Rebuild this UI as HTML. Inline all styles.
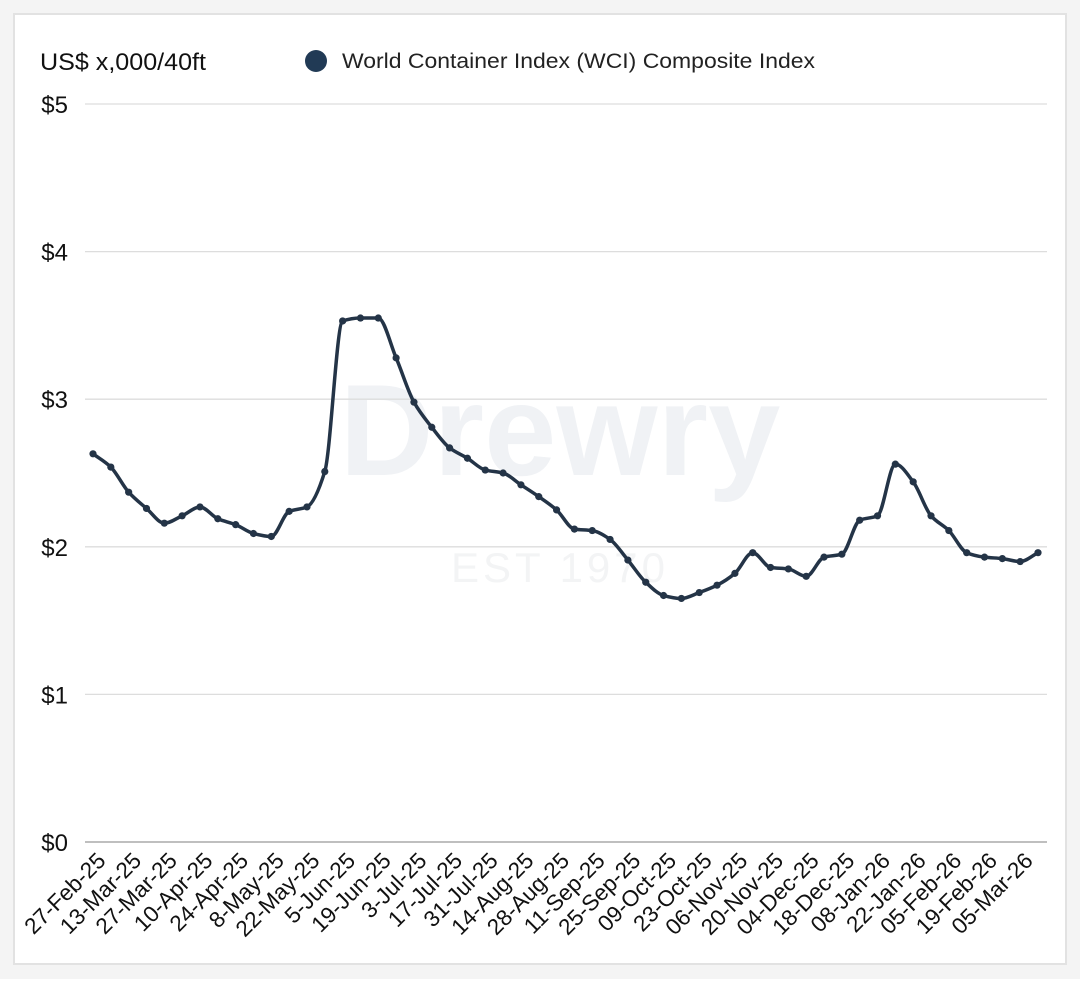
<!DOCTYPE html>
<html><head><meta charset="utf-8"><style>
html,body{margin:0;padding:0;background:#fff;}
body{width:1080px;height:979px;overflow:hidden;font-family:"Liberation Sans",sans-serif;}
</style></head><body>
<svg id="s" width="1080" height="979" xmlns="http://www.w3.org/2000/svg" font-family="Liberation Sans, sans-serif">
<rect x="0" y="0" width="1080" height="979" fill="#f4f4f4"/>
<rect x="14" y="14" width="1052" height="950" fill="#fff" stroke="#e2e2e2" stroke-width="2"/>
<text x="40" y="70" font-size="24" fill="#111" textLength="166" lengthAdjust="spacingAndGlyphs">US$ x,000/40ft</text>
<circle cx="316" cy="61" r="11" fill="#213a55"/>
<text x="342" y="68" font-size="21" fill="#222" textLength="473" lengthAdjust="spacingAndGlyphs">World Container Index (WCI) Composite Index</text>
<text x="560" y="475" font-size="130" font-weight="bold" fill="#f0f2f5" text-anchor="middle">Drewry</text>
<text x="560" y="582" font-size="42" fill="#f3f4f5" text-anchor="middle" letter-spacing="4">EST 1970</text>
<g id="g"></g>
</svg>
<script>
var vals=[2.63,2.54,2.37,2.26,2.16,2.21,2.27,2.19,2.15,2.09,2.07,2.24,2.27,2.51,3.53,3.55,3.55,3.28,2.98,2.81,2.67,2.60,2.52,2.50,2.42,2.34,2.25,2.12,2.11,2.05,1.91,1.76,1.67,1.65,1.69,1.74,1.82,1.96,1.86,1.85,1.80,1.93,1.95,2.18,2.21,2.56,2.44,2.21,2.11,1.96,1.93,1.92,1.90,1.96];
var labels=["27-Feb-25","13-Mar-25","27-Mar-25","10-Apr-25","24-Apr-25","8-May-25","22-May-25","5-Jun-25","19-Jun-25","3-Jul-25","17-Jul-25","31-Jul-25","14-Aug-25","28-Aug-25","11-Sep-25","25-Sep-25","09-Oct-25","23-Oct-25","06-Nov-25","20-Nov-25","04-Dec-25","18-Dec-25","08-Jan-26","22-Jan-26","05-Feb-26","19-Feb-26","05-Mar-26"];
var x0=93,x1=1038,step=(x1-x0)/(vals.length-1);
function Y(v){return 842-v*147.6;}
var h='';
for(var i=0;i<=5;i++){var y=Y(i);h+='<line x1="85" x2="1047" y1="'+y+'" y2="'+y+'" stroke="'+(i==0?'#999':'#ddd')+'" stroke-width="1.3"/>';
h+='<text x="68" y="'+(y+9)+'" font-size="24" fill="#111" text-anchor="end">$'+i+'</text>';}
var p=vals.map(function(v,i){return [x0+i*step,Y(v)];});
var n=p.length,m=[];
for(var i=0;i<n;i++){
 var d0=i>0?(p[i][1]-p[i-1][1])/step:null, d1=i<n-1?(p[i+1][1]-p[i][1])/step:null;
 if(d0===null)m.push(d1);else if(d1===null)m.push(d0);
 else if(d0*d1<=0)m.push(0);else m.push(2/(1/d0+1/d1));
}
var d='M'+p[0][0]+','+p[0][1];
for(var i=0;i<n-1;i++){var b=p[i],c=p[i+1],t=step/3;
d+=' C'+(b[0]+t)+','+(b[1]+m[i]*t)+' '+(c[0]-t)+','+(c[1]-m[i+1]*t)+' '+c[0]+','+c[1];}
h+='<path d="'+d+'" fill="none" stroke="#243447" stroke-width="3.5"/>';
p.forEach(function(q){h+='<circle cx="'+q[0]+'" cy="'+q[1]+'" r="3.6" fill="#243447"/>';});
labels.forEach(function(l,i){var x=x0+i*2*step+14,y=862;h+='<text transform="translate('+x+','+y+') rotate(-45)" font-size="22.5" fill="#111" text-anchor="end">'+l+'</text>';});
document.getElementById('g').innerHTML=h;
</script>
</body></html>
